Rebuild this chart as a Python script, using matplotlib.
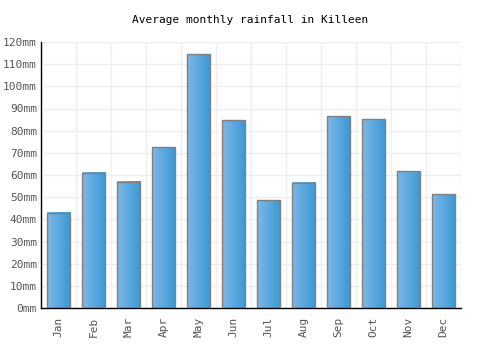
import numpy as np
import matplotlib
matplotlib.use("Agg")
import matplotlib.pyplot as plt
from matplotlib.colors import LinearSegmentedColormap

months = ["Jan", "Feb", "Mar", "Apr", "May", "Jun", "Jul", "Aug", "Sep", "Oct", "Nov", "Dec"]
rainfall = [43, 61, 57, 72.6, 114.5, 84.6, 48.6, 56.4, 86.4, 85.2, 61.8, 51.4]
yticks = list(range(0, 121, 10))
ytick_labels = [f"{v}mm" for v in yticks]
title = "Average monthly rainfall in Killeen"

plt.rcParams['font.family'] = ['DejaVu Sans Mono']

fig = plt.figure(figsize=(5, 3.5), dpi=100)
ax = fig.add_axes([41/500, 42/350, 420/500, 266/350])

x = np.arange(len(months))
bars = ax.bar(x, rainfall, width=0.68, color="none", edgecolor="#808080", linewidth=1, zorder=3)

cmap = LinearSegmentedColormap.from_list("g", ["#7ab8ea", "#3c98d2"])
grad = np.linspace(0, 1, 64).reshape(1, -1)
for b in bars:
    x0, y0 = b.get_x(), b.get_y()
    w, h = b.get_width(), b.get_height()
    ax.imshow(grad, extent=[x0, x0 + w, y0, y0 + h], aspect="auto", cmap=cmap, zorder=2, interpolation="bilinear")

ax.set_xlim(-0.5, len(months) - 0.5)
ax.set_ylim(0, 120)
ax.set_yticks(yticks)
ax.set_yticklabels(ytick_labels)
ax.set_xticks(x)
ax.set_xticklabels(months, rotation=90)
ax.set_xticks(np.arange(-0.5, len(months), 1), minor=True)
ax.grid(True, which="minor", axis="x", color="#eeeeee", linewidth=1, zorder=0)
ax.grid(True, which="major", axis="y", color="#eeeeee", linewidth=1, zorder=0)
ax.tick_params(axis="both", which="both", length=0, labelsize=8, colors="#555555")
ax.tick_params(axis="x", pad=6)
ax.tick_params(axis="y", pad=3)
for s in ["top", "right"]:
    ax.spines[s].set_visible(False)
for s in ["left", "bottom"]:
    ax.spines[s].set_color("black")
    ax.spines[s].set_linewidth(1)
ax.set_axisbelow(True)

fig.text(0.5, 1 - 20/350, title, ha="center", va="center", fontsize=8, color="black")

fig.savefig("out.png", dpi=100)
